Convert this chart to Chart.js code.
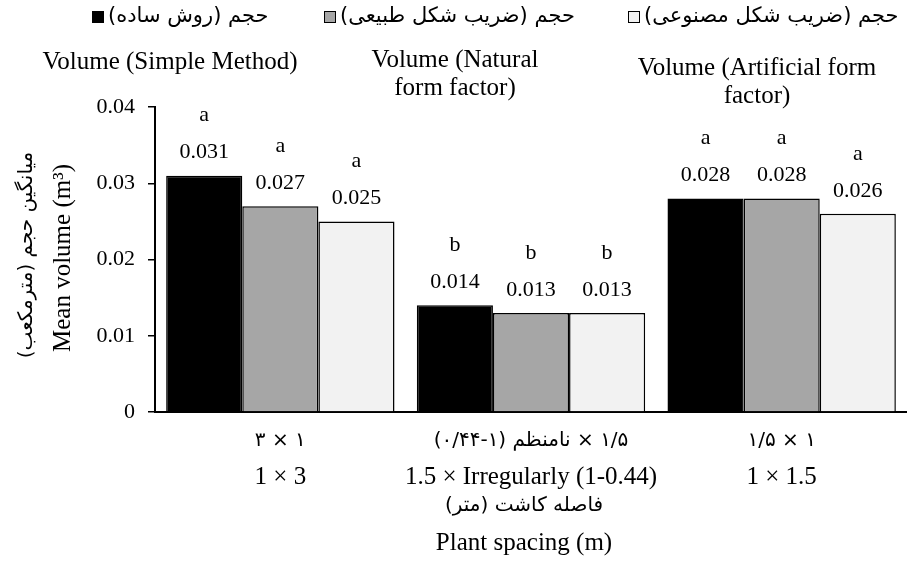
<!DOCTYPE html>
<html>
<head>
<meta charset="utf-8">
<script src="https://cdn.jsdelivr.net/npm/chart.js@4.4.1/dist/chart.umd.min.js"></script>
<style>
  html, body { margin: 0; padding: 0; background: #fff; }
  #wrap { width: 907px; height: 577px; }
</style>
</head>
<body>
<div id="wrap"><canvas id="chart" width="907" height="577"></canvas></div>
<script>
const categoriesFa = ['۱ × ۳', '۱/۵ × نامنظم (۱-۰/۴۴)', '۱ × ۱/۵'];
const categoriesEn = ['1 × 3', '1.5 × Irregularly (1-0.44)', '1 × 1.5'];
const seriesFa = ['حجم (روش ساده)', 'حجم (ضریب شکل طبیعی)', 'حجم (ضریب شکل مصنوعی)'];
const seriesEn = [['Volume (Simple Method)'], ['Volume (Natural', 'form factor)'], ['Volume (Artificial form', 'factor)']];
const simpleMethod = [0.031, 0.014, 0.028];
const naturalForm = [0.027, 0.013, 0.028];
const artificialForm = [0.025, 0.013, 0.026];
const simpleLetters = ['a', 'b', 'a'];
const naturalLetters = ['a', 'b', 'a'];
const artificialLetters = ['a', 'b', 'a'];
const yTickLabels = ['0', '0.01', '0.02', '0.03', '0.04'];
const yTitleFa = 'میانگین حجم (مترمکعب)';
const yTitleEn = 'Mean volume (m³)';
const xTitleFa = 'فاصله کاشت (متر)';
const xTitleEn = 'Plant spacing (m)';

const SERIF = "'Liberation Serif', 'Times New Roman', serif";
const FA = "'DejaVu Sans', sans-serif";
const fills = ['#000000', '#a6a6a6', '#f2f2f2'];
const letterSets = [simpleLetters, naturalLetters, artificialLetters];

function drawText(ctx, s, x, y, font, align, dir) {
  ctx.save();
  ctx.font = font;
  ctx.fillStyle = '#000';
  ctx.textAlign = align || 'center';
  ctx.textBaseline = 'middle';
  ctx.direction = dir || 'ltr';
  ctx.fillText(s, x, y);
  ctx.restore();
}

const textPlugin = {
  id: 'textPlugin',
  afterDatasetsDraw(chart) {
    const ctx = chart.ctx;
    // value + significance letter above each bar
    chart.data.datasets.forEach((ds, di) => {
      chart.getDatasetMeta(di).data.forEach((bar, i) => {
        const vy = bar.y - 23;
        drawText(ctx, ds.data[i].toFixed(3), bar.x, vy, '22px ' + SERIF);
        drawText(ctx, letterSets[di][i], bar.x, vy - 37, '22px ' + SERIF);
      });
    });
  },
  afterDraw(chart) {
    const ctx = chart.ctx;
    const x = chart.scales.x;

    // legend row
    const boxX = [92, 324, 628];
    seriesFa.forEach((name, i) => {
      ctx.save();
      ctx.fillStyle = fills[i];
      ctx.strokeStyle = '#000';
      ctx.lineWidth = 1;
      ctx.fillRect(boxX[i] + 0.5, 11.5, 11, 11);
      ctx.strokeRect(boxX[i] + 0.5, 11.5, 11, 11);
      ctx.restore();
      drawText(ctx, name, boxX[i] + 16, 17, '21px ' + FA, 'left', 'rtl');
    });

    // english series labels
    const enPos = [[170, 62], [455, 60], [757, 68]];
    seriesEn.forEach((lines, i) => {
      lines.forEach((line, j) => {
        drawText(ctx, line, enPos[i][0], enPos[i][1] + j * 28, '25px ' + SERIF);
      });
    });

    // category labels
    categoriesFa.forEach((lab, i) => {
      const cx = x.getPixelForValue(i);
      drawText(ctx, lab, cx, 441, '20px ' + FA, 'center', 'rtl');
      drawText(ctx, categoriesEn[i], cx, 477, '25px ' + SERIF);
    });

    // axis titles
    drawText(ctx, xTitleFa, 524, 506, '20px ' + FA, 'center', 'rtl');
    drawText(ctx, xTitleEn, 524, 543, '25px ' + SERIF);

    ctx.save();
    ctx.translate(27, 255);
    ctx.rotate(-Math.PI / 2);
    drawText(ctx, yTitleFa, 0, 0, '20px ' + FA, 'center', 'rtl');
    ctx.restore();
    ctx.save();
    ctx.translate(63, 258);
    ctx.rotate(-Math.PI / 2);
    drawText(ctx, yTitleEn, 0, 0, '25px ' + SERIF);
    ctx.restore();
  }
};

new Chart(document.getElementById('chart'), {
  type: 'bar',
  data: {
    labels: categoriesEn,
    datasets: [simpleMethod, naturalForm, artificialForm].map((data, i) => ({
      label: seriesEn[i].join(' '),
      data,
      backgroundColor: fills[i],
      borderColor: '#000',
      borderWidth: 1.5,
      categoryPercentage: 0.911,
      barPercentage: 1,
    })),
  },
  options: {
    responsive: false,
    animation: false,
    events: [],
    layout: { padding: { top: 107, left: 0, right: 0, bottom: 0 } },
    plugins: { legend: { display: false }, tooltip: { enabled: false } },
    scales: {
      x: {
        ticks: { display: false },
        grid: { display: false },
        border: { display: true, color: '#000', width: 2 },
        afterFit(scale) { scale.height = 165; },
      },
      y: {
        min: 0,
        max: 0.04,
        ticks: {
          stepSize: 0.01,
          color: '#000',
          font: { family: SERIF, size: 22 },
          padding: 13,
          callback: (v, i) => yTickLabels[i],
        },
        grid: { drawOnChartArea: false, drawTicks: true, tickLength: 7, color: '#000', lineWidth: 1.5 },
        border: { display: true, color: '#000', width: 2 },
        afterFit(scale) { scale.width = 155; },
      },
    },
  },
  plugins: [textPlugin],
});
</script>
</body>
</html>
